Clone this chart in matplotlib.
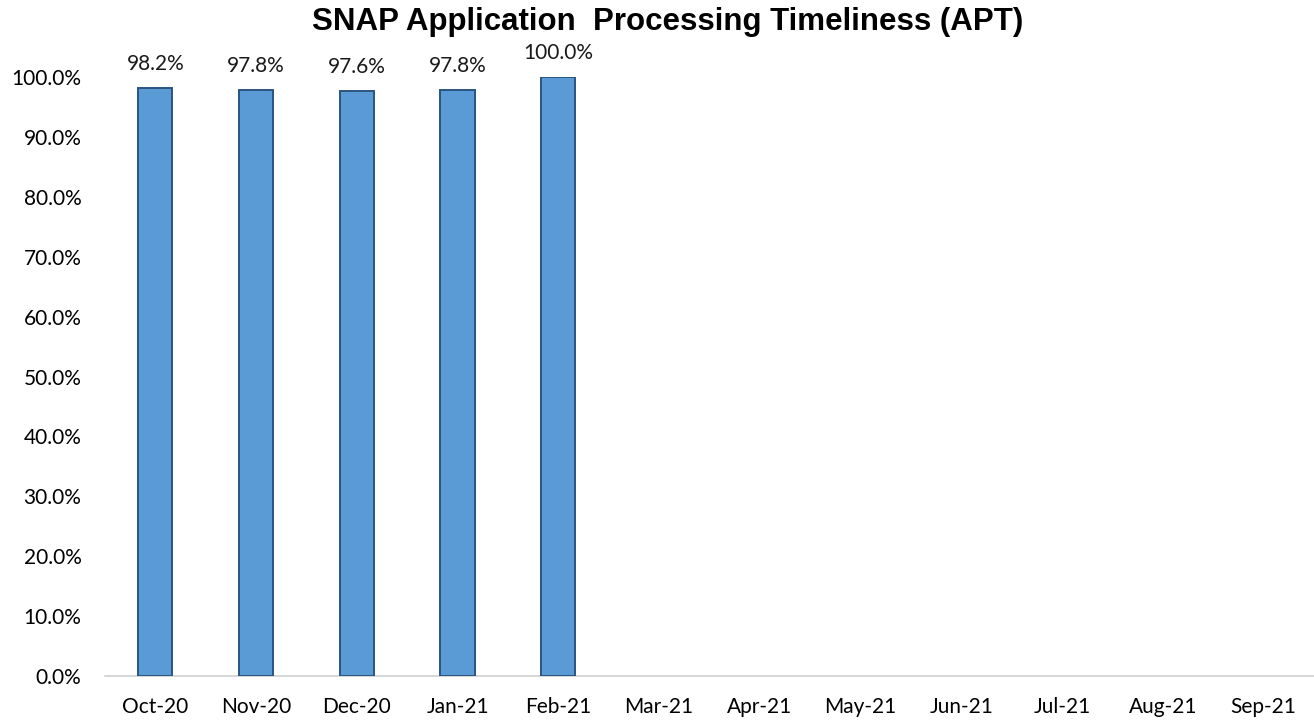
import numpy as np
import matplotlib

matplotlib.use('Agg')
import matplotlib.pyplot as plt

# Donnees
mois = ['Oct-20', 'Nov-20', 'Dec-20', 'Jan-21', 'Feb-21', 'Mar-21',
        'Apr-21', 'May-21', 'Jun-21', 'Jul-21', 'Aug-21', 'Sep-21']
apt = [98.2, 97.8, 97.6, 97.8, 100.0]
y_ticks = [0, 10, 20, 30, 40, 50, 60, 70, 80, 90, 100]

plt.rcParams['font.family'] = ['Lato', 'DejaVu Sans']

fig = plt.figure(figsize=(13.14, 7.21), dpi=100)
ax = fig.add_axes([0.0799, 0.0624, 0.9201, 0.8308])

x = np.arange(len(mois))
ax.bar(x[:len(apt)], apt, width=0.34, color='#5b9bd5',
       edgecolor='#2a557f', linewidth=1.4, zorder=3)

for xi, v in zip(x, apt):
    ax.annotate(f'{v:.1f}%', (xi, v), xytext=(0, 10), textcoords='offset points',
                ha='center', va='bottom', fontsize=15, color='#1a1a1a',
                annotation_clip=False)

ax.set_xlim(-0.5, len(mois) - 0.5)
ax.set_ylim(0, 100)
ax.set_xticks(x)
ax.set_xticklabels(mois, fontsize=15)
ax.set_yticks(y_ticks)
ax.set_yticklabels([f'{t:.1f}%' for t in y_ticks], fontsize=15)
ax.tick_params(axis='x', length=0, pad=15)
ax.tick_params(axis='y', length=0, pad=17)

for s in ['top', 'right', 'left']:
    ax.spines[s].set_visible(False)
ax.spines['bottom'].set_color('#d0d0d0')
ax.spines['bottom'].set_linewidth(1.2)

fig.text(0.508, 0.99, 'SNAP Application  Processing Timeliness (APT)',
         ha='center', va='top', fontsize=22.5, fontweight='bold',
         family=['Liberation Sans', 'DejaVu Sans'])

fig.savefig('out.png', dpi=100)
